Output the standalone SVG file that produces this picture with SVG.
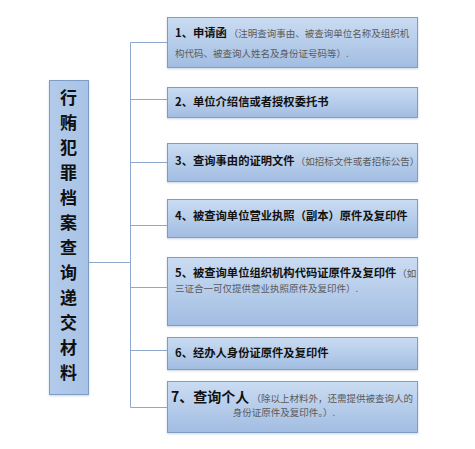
<svg xmlns="http://www.w3.org/2000/svg" width="475" height="449" viewBox="0 0 475 449">
<style>
.box{fill:url(#g);stroke:#7e9dc6;stroke-width:1}
.lbox{fill:url(#gl);stroke:#7e9dc6;stroke-width:1}
.c{stroke:#8ea8cf;stroke-width:1;fill:none}
text{font-family:"Noto Sans CJK SC","Noto Sans",sans-serif}
.b{font-size:11.3px;font-weight:bold;fill:#111}
.s{font-size:9.5px;fill:#5a5a5a;font-weight:normal}
.big{font-size:14px;font-weight:bold;fill:#111}
.v{font-size:17px;font-weight:bold;fill:#111;text-anchor:middle}
</style>
<defs>
<linearGradient id="g" x1="0" y1="0" x2="0" y2="1">
<stop offset="0" stop-color="#cadcf2"/>
<stop offset="1" stop-color="#a2bde2"/>
</linearGradient>
<linearGradient id="gl" x1="0" y1="0" x2="1" y2="0">
<stop offset="0" stop-color="#b2cbeb"/>
<stop offset="1" stop-color="#a9c3e6"/>
</linearGradient>
<filter id="sh" x="-5%" y="-5%" width="110%" height="120%">
<feDropShadow dx="0" dy="1" stdDeviation="0.8" flood-color="#6a85aa" flood-opacity="0.35"/>
</filter>
</defs>
<g id="connectors">
<path class="c" d="M88.5 262.5H130.5M130.5 42.5V407.5M130.5 42.5H167M130.5 99.5H167M130.5 162.5H167M130.5 225.5H167M130.5 287.5H167M130.5 350.5H167M130.5 407.5H167"/>
</g>
<g id="root">
<rect class="lbox" x="49.5" y="80.5" width="39" height="314" filter="url(#sh)"/>
<text class="v" x="68.5" y="104">行</text>
<text class="v" x="68.5" y="129">贿</text>
<text class="v" x="68.5" y="154">犯</text>
<text class="v" x="68.5" y="179">罪</text>
<text class="v" x="68.5" y="204">档</text>
<text class="v" x="68.5" y="229">案</text>
<text class="v" x="68.5" y="254">查</text>
<text class="v" x="68.5" y="279">询</text>
<text class="v" x="68.5" y="304">递</text>
<text class="v" x="68.5" y="329">交</text>
<text class="v" x="68.5" y="354">材</text>
<text class="v" x="68.5" y="379">料</text>
</g>
<g id="n1">
<rect class="box" x="167.5" y="17.5" width="250" height="50" filter="url(#sh)"/>
<text x="175" y="37"><tspan class="b" font-size="12.5px">1、申请函</tspan><tspan class="s" dx="2">（注明查询事由、被查询单位名称及组织机</tspan></text>
<text class="s" x="175" y="57">构代码、被查询人姓名及身份证号码等）.</text>
</g>
<g id="n2">
<rect class="box" x="167.5" y="87.5" width="250" height="30" filter="url(#sh)"/>
<text class="b" x="175" y="106">2、单位介绍信或者授权委托书</text>
</g>
<g id="n3">
<rect class="box" x="167.5" y="143.5" width="250" height="38" filter="url(#sh)"/>
<text x="175" y="165"><tspan class="b">3、查询事由的证明文件</tspan><tspan class="s" dx="1">（如招标文件或者招标公告）</tspan></text>
</g>
<g id="n4">
<rect class="box" x="167.5" y="199.5" width="250" height="38" filter="url(#sh)"/>
<text class="b" x="175" y="220">4、被查询单位营业执照（副本）原件及复印件</text>
</g>
<g id="n5">
<rect class="box" x="167.5" y="257.5" width="250" height="68" filter="url(#sh)"/>
<text x="175" y="277"><tspan class="b">5、被查询单位组织机构代码证原件及复印件</tspan><tspan class="s" dx="1">（如</tspan></text>
<text class="s" x="175" y="292">三证合一可仅提供营业执照原件及复印件）.</text>
</g>
<g id="n6">
<rect class="box" x="167.5" y="337.5" width="250" height="32" filter="url(#sh)"/>
<text class="b" x="175" y="357">6、经办人身份证原件及复印件</text>
</g>
<g id="n7">
<rect class="box" x="167.5" y="381.5" width="250" height="51" filter="url(#sh)"/>
<text x="292" y="402" text-anchor="middle"><tspan class="big">7、查询个人</tspan><tspan class="s" dx="2">（除以上材料外，还需提供被查询人的</tspan></text>
<text class="s" x="284" y="416" text-anchor="middle">身份证原件及复印件。）.</text>
</g>
</svg>
